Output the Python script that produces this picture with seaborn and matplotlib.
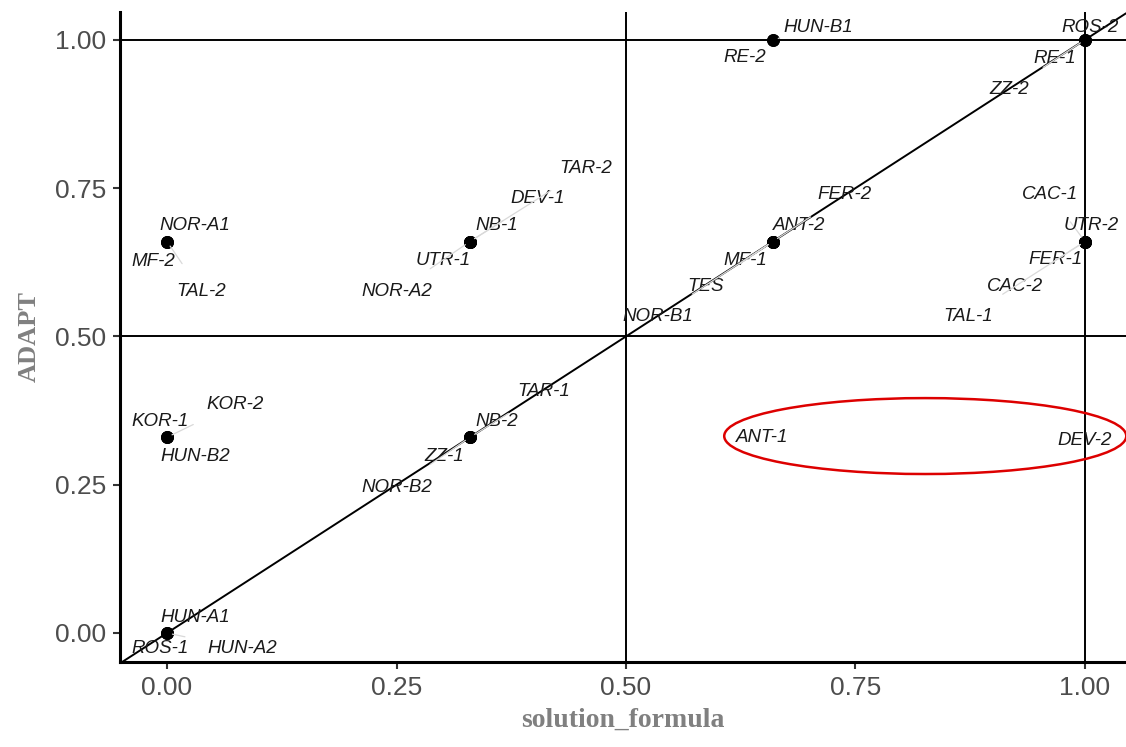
import numpy as np
import pandas as pd
import matplotlib
matplotlib.use("Agg")
import matplotlib.pyplot as plt
import seaborn as sns
from matplotlib.patches import Ellipse

# ==========================================
# data: cases with membership in solution formula vs ADAPT outcome
# ==========================================
cases = ["HUN-A1", "ROS-1", "HUN-A2",
         "KOR-1", "KOR-2", "HUN-B2",
         "NOR-A1", "MF-2", "TAL-2",
         "NB-2", "TAR-1", "ZZ-1", "NOR-B2",
         "NB-1", "DEV-1", "TAR-2", "UTR-1", "NOR-A2",
         "ANT-2", "FER-2", "MF-1", "TES", "NOR-B1",
         "HUN-B1", "RE-2",
         "ROS-2", "RE-1", "ZZ-2",
         "CAC-1", "UTR-2", "FER-1", "CAC-2", "TAL-1",
         "ANT-1", "DEV-2"]
solution_formula = [0, 0, 0,
                    0, 0, 0,
                    0, 0, 0,
                    0.33, 0.33, 0.33, 0.33,
                    0.33, 0.33, 0.33, 0.33, 0.33,
                    0.66, 0.66, 0.66, 0.66, 0.66,
                    0.66, 0.66,
                    1, 1, 1,
                    1, 1, 1, 1, 1,
                    0.66, 1]
adapt = [0, 0, 0,
         0.33, 0.33, 0.33,
         0.66, 0.66, 0.66,
         0.33, 0.33, 0.33, 0.33,
         0.66, 0.66, 0.66, 0.66, 0.66,
         0.66, 0.66, 0.66, 0.66, 0.66,
         1, 1,
         1, 1, 1,
         0.66, 0.66, 0.66, 0.66, 0.66,
         0.33, 0.33]
# the two deviant cases in the circle show no dot
has_point = [True] * 33 + [False, False]

# label offsets (pixels) as placed by the repel layout
label_offsets = {
    "HUN-A1": (28, 15), "ROS-1": (-7, -16), "HUN-A2": (75, -16),
    "KOR-1": (-7, 16), "KOR-2": (68, 33), "HUN-B2": (28, -19),
    "NOR-A1": (28, 16), "MF-2": (-14, -20), "TAL-2": (34, -50),
    "NB-2": (27, 16), "TAR-1": (74, 46), "ZZ-1": (-26, -19), "NOR-B2": (-73, -50),
    "NB-1": (27, 16), "DEV-1": (68, 43), "TAR-2": (116, 73), "UTR-1": (-27, -19),
    "NOR-A2": (-73, -50),
    "ANT-2": (26, 16), "FER-2": (72, 47), "MF-1": (-28, -19), "TES": (-67, -45),
    "NOR-B1": (-115, -75),
    "HUN-B1": (45, 12), "RE-2": (-28, -18),
    "ROS-2": (5, 12), "RE-1": (-30, -19), "ZZ-2": (-76, -50),
    "CAC-1": (-35, 47), "UTR-2": (6, 16), "FER-1": (-29, -18), "CAC-2": (-70, -45),
    "TAL-1": (-117, -75),
    "ANT-1": (-11, 0), "DEV-2": (0, -3),
}

df = pd.DataFrame({"case": cases, "solution_formula": solution_formula,
                   "ADAPT": adapt, "has_point": has_point})

# ==========================================
# plot
# ==========================================
sns.set_style("ticks")
plt.rcParams["font.family"] = ["Liberation Sans", "DejaVu Sans"]

fig = plt.figure(figsize=(11.26, 7.47), dpi=100)
ax = fig.add_axes([0.1066, 0.1138, 0.8934, 0.8702])

# reference lines
for v in [0.5, 1.0]:
    ax.axvline(v, color="black", lw=1.4, zorder=1)
    ax.axhline(v, color="black", lw=1.4, zorder=1)
ax.axline((0, 0), (1, 1), color="black", lw=1.4, zorder=1)

sns.scatterplot(data=df[df["has_point"]], x="solution_formula", y="ADAPT",
                color="black", s=85, edgecolor=None, linewidth=0, ax=ax, zorder=3)

for name, xv, yv in zip(cases, solution_formula, adapt):
    dx, dy = label_offsets[name]
    far = np.hypot(dx, dy) > 40
    ax.annotate(name, xy=(xv, yv), xytext=(dx, dy), textcoords="offset pixels",
                ha="center", va="center", fontsize=13.5, style="italic",
                color="#1a1a1a", zorder=4,
                arrowprops=dict(arrowstyle="-", color="#d9d9d9", lw=0.9,
                                shrinkA=14, shrinkB=4) if far else None)

# highlight of the deviant cases
ax.add_patch(Ellipse((0.826, 0.332), 0.438, 0.128, fill=False,
                     edgecolor="#dd0000", lw=1.8, zorder=5, clip_on=False))

ax.set_xlim(-0.0512, 1.0447)
ax.set_ylim(-0.0489, 1.047)
ticks = [0, 0.25, 0.5, 0.75, 1.0]
tick_labels = ["0.00", "0.25", "0.50", "0.75", "1.00"]
ax.set_xticks(ticks)
ax.set_yticks(ticks)
ax.set_xticklabels(tick_labels)
ax.set_yticklabels(tick_labels)
ax.tick_params(axis="both", labelsize=19, labelcolor="#4d4d4d", color="#333333",
               length=5, width=1.5, pad=5)

sns.despine(ax=ax, top=True, right=True)
for side in ["left", "bottom"]:
    ax.spines[side].set_linewidth(2.2)
    ax.spines[side].set_color("black")

ax.set_xlabel("solution_formula", family="Liberation Serif", fontweight="bold",
              fontsize=20, color="#808080", labelpad=6)
ax.set_ylabel("ADAPT", family="Liberation Serif", fontweight="bold",
              fontsize=19, color="#808080", labelpad=10)

fig.savefig("out.png", dpi=100)
plt.close(fig)
